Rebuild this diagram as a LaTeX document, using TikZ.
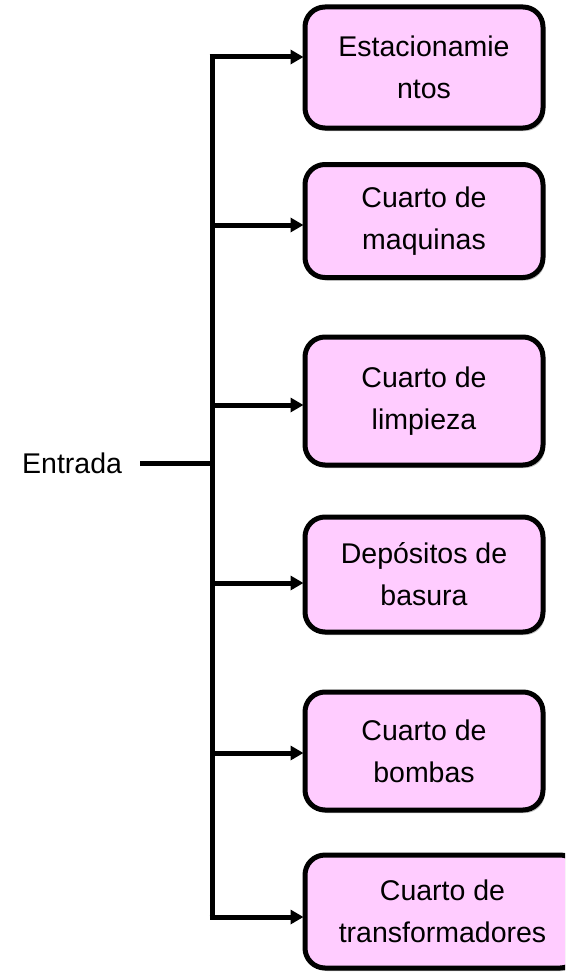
\documentclass[tikz,border=0pt]{standalone}
\usepackage{fontspec}
\setmainfont{Liberation Sans}
\usetikzlibrary{arrows.meta,shadows}
\definecolor{boxpink}{HTML}{FFCCFF}
\tikzset{
  box/.style={draw=black, line width=5pt, fill=boxpink, rounded corners=20pt,
    align=center, inner sep=0pt, font={\fontsize{28.5}{42}\selectfont},
    drop shadow={shadow xshift=2pt, shadow yshift=-3pt, opacity=0.25, fill=black}},
  conn/.style={line width=5pt, draw=black},
  arr/.style={conn, -{Triangle[length=13pt,width=14pt]}, shorten >=-1pt},
  lbl/.style={font={\fontsize{28.5}{42}\selectfont}, inner sep=0pt}
}
\begin{document}
\begin{tikzpicture}[x=1pt,y=-1pt]
\useasboundingbox (0,0) rectangle (565,974);
\clip (0,0) rectangle (565,974);
% boxes
\node[box, minimum width=238pt, minimum height=121pt] (b1) at (424,67.5) {Estacionamie\\ntos};
\node[box, minimum width=238pt, minimum height=113pt] (b2) at (424,221) {Cuarto de\\maquinas};
\node[box, minimum width=238pt, minimum height=128pt] (b3) at (424,401) {Cuarto de\\limpieza};
\node[box, minimum width=238pt, minimum height=115pt] (b4) at (424,574.5) {Depósitos de\\basura};
\node[box, minimum width=238pt, minimum height=118pt] (b5) at (424,751) {Cuarto de\\bombas};
\node[box, minimum width=275pt, minimum height=113pt] (b6) at (442.5,911.5) {Cuarto de\\transformadores};
% entrada
\node[lbl, anchor=base west] (entrada) at (22,473) {Entrada};
\coordinate (e0) at (140,463);
\coordinate (jm) at (212,463);
% junctions
\coordinate (j1) at (212,57);
\coordinate (j2) at (212,225);
\coordinate (j3) at (212,405);
\coordinate (j4) at (212,583);
\coordinate (j5) at (212,753);
\coordinate (j6) at (212,917);
% trunk
\draw[conn, line cap=butt] ([yshift=2.5pt]j1) -- ([yshift=-2.5pt]j6);
\draw[conn] (e0) -- (jm);
\draw[arr] ([xshift=-2.5pt]j1) -- (j1 -| b1.west);
\draw[arr] (j2) -- (j2 -| b2.west);
\draw[arr] (j3) -- (j3 -| b3.west);
\draw[arr] (j4) -- (j4 -| b4.west);
\draw[arr] (j5) -- (j5 -| b5.west);
\draw[arr] ([xshift=-2.5pt]j6) -- (j6 -| b6.west);
\end{tikzpicture}
\end{document}
